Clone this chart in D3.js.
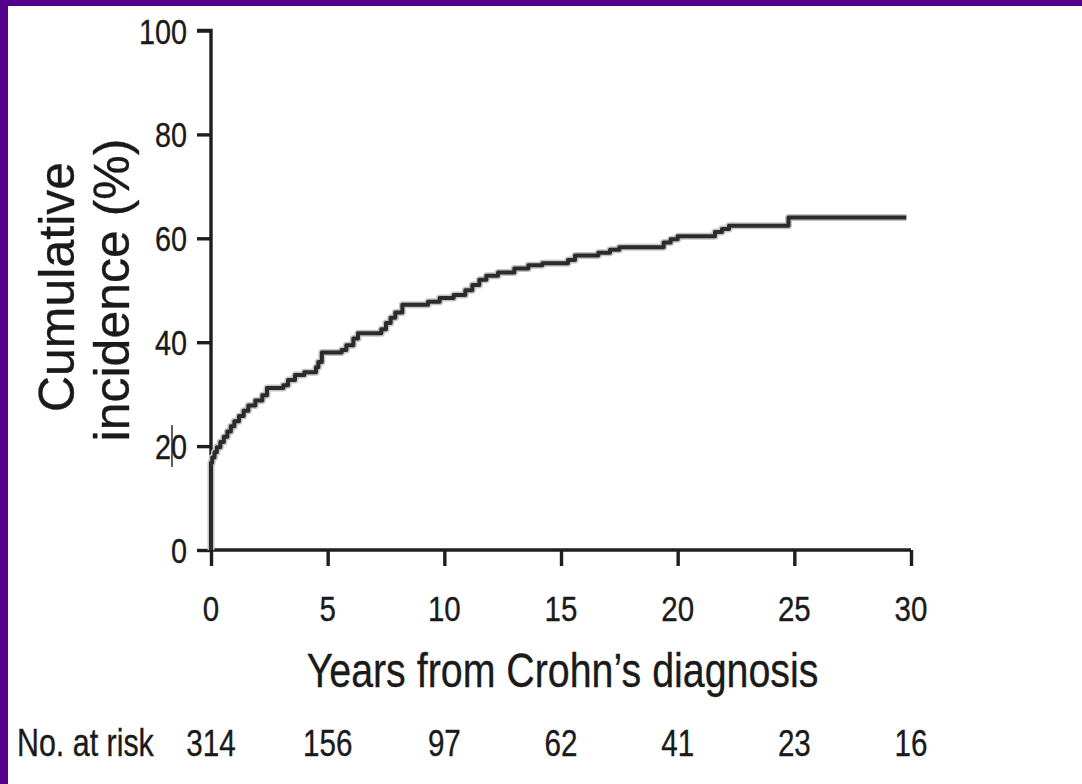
<!DOCTYPE html>
<html>
<head>
<meta charset="utf-8">
<script src="https://cdn.jsdelivr.net/npm/d3@7"></script>
<style>
  html, body { margin: 0; padding: 0; background: #fff; }
  svg { display: block; }
  text { font-family: "Liberation Sans", Arial, sans-serif; fill: #1a1a1a; stroke: #1a1a1a; stroke-width: 0.35px; }
</style>
</head>
<body>
<svg id="chart" width="1082" height="784"></svg>
<script>
// ---- data ----
const years = [0, 0, 0.05, 0.15, 0.25, 0.4, 0.55, 0.7, 0.85, 1.0, 1.2, 1.4, 1.6, 1.9, 2.2, 2.4, 3.1, 3.3, 3.6, 4.0, 4.5, 4.6, 4.75, 5.6, 5.8, 6.1, 6.3, 7.3, 7.5, 7.7, 7.9, 8.2, 9.3, 9.8, 10.4, 10.9, 11.2, 11.5, 11.8, 12.3, 13.0, 13.6, 14.2, 15.3, 15.6, 16.6, 17.1, 17.5, 19.4, 19.7, 20.0, 21.6, 21.9, 22.2, 24.75, 29.8];
const incidence = [0, 16.8, 17.8, 18.8, 19.8, 20.8, 21.8, 22.8, 23.8, 24.8, 25.8, 26.8, 27.8, 28.8, 29.8, 31.2, 31.7, 32.7, 33.7, 34.2, 35.2, 36.2, 38.0, 38.5, 39.4, 40.7, 41.7, 42.5, 43.7, 44.7, 45.7, 47.2, 47.8, 48.5, 49.1, 50.0, 51.0, 52.0, 52.8, 53.4, 54.2, 54.8, 55.2, 55.8, 56.7, 57.2, 57.8, 58.3, 59.2, 59.8, 60.4, 61.2, 61.8, 62.4, 64.0, 64.0];
const xTicks = [0, 5, 10, 15, 20, 25, 30];
const yTicks = [0, 20, 40, 60, 80, 100];
const atRiskYears = [0, 5, 10, 15, 20, 25, 30];
const atRisk = [314, 156, 97, 62, 41, 23, 16];
const xTitle = "Years from Crohn\u2019s diagnosis";
const yTitleLines = ["Cumulative", "incidence (%)"];
const atRiskLabel = "No. at risk";

// ---- layout ----
const svg = d3.select("#chart");
const W = 1082, H = 784;
const x = d3.scaleLinear().domain([0, 30]).range([211, 911]);
const y = d3.scaleLinear().domain([0, 100]).range([550, 30.5]);
const ink = "#1e1e1e";

// purple frame (top and left)
svg.append("rect").attr("x", 0).attr("y", 0).attr("width", W).attr("height", 6).attr("fill", "#55008a");
svg.append("rect").attr("x", 0).attr("y", 0).attr("width", 8).attr("height", H).attr("fill", "#55008a");

// axes
const yAxis = d3.axisLeft(y).tickValues(yTicks).tickSize(14).tickFormat("");
const gy = svg.append("g").attr("transform", `translate(${x(0)},0)`).call(yAxis);
const xAxis = d3.axisBottom(x).tickValues(xTicks).tickSize(16).tickFormat("");
const gx = svg.append("g").attr("transform", `translate(0,${y(0)})`).call(xAxis);
[gy, gx].forEach(g => {
  g.select(".domain").attr("stroke", ink).attr("stroke-width", 3.4);
  g.selectAll(".tick line").attr("stroke", ink).attr("stroke-width", 3.4);
});
gy.select(".domain").attr("d", `M-14,${y(100)}H0V${y(0)}`);
gx.select(".domain").attr("d", `M${x(0)},0H${x(30)}`);

// y tick labels (condensed)
svg.append("g").selectAll("text").data(yTicks).join("text")
  .attr("transform", d => `translate(187,${y(d) + 13}) scale(0.8,1)`)
  .attr("text-anchor", "end")
  .attr("font-size", 36)
  .text(d => d);

// small artefact mark through the "20" label
svg.append("line").attr("x1", 172).attr("x2", 172)
  .attr("y1", y(20) - 21).attr("y2", y(20) + 21)
  .attr("stroke", ink).attr("stroke-width", 1.4);

// x tick labels
svg.append("g").selectAll("text").data(xTicks).join("text")
  .attr("transform", d => `translate(${x(d)},621) scale(0.82,1)`)
  .attr("text-anchor", "middle")
  .attr("font-size", 36)
  .text(d => d);

// x title
svg.append("text")
  .attr("transform", `translate(${(303 + 822) / 2},687) scale(0.82,1)`)
  .attr("text-anchor", "middle")
  .attr("font-size", 48)
  .text(xTitle);

// y title (two rotated lines)
svg.append("g").selectAll("text").data(yTitleLines).join("text")
  .attr("transform", (d, i) => `translate(${i === 0 ? 74 : 129},${i === 0 ? 287 : 290}) rotate(-90)`)
  .attr("text-anchor", "middle")
  .attr("font-size", 50)
  .text(d => d);

// number at risk row
svg.append("text")
  .attr("transform", `translate(17,756) scale(0.8,1)`)
  .attr("font-size", 38)
  .text(atRiskLabel);
svg.append("g").selectAll("text").data(atRisk).join("text")
  .attr("transform", (d, i) => `translate(${x(atRiskYears[i])},756) scale(0.8,1)`)
  .attr("text-anchor", "middle")
  .attr("font-size", 37)
  .text(d => d);

// curve
const line = d3.line()
  .x((d, i) => x(years[i]))
  .y((d, i) => y(incidence[i]))
  .curve(d3.curveStepAfter);
svg.append("path")
  .datum(incidence)
  .attr("d", line)
  .attr("fill", "none")
  .attr("stroke", "#c4c4c4")
  .attr("stroke-width", 7)
  .attr("stroke-linejoin", "round");
svg.append("path")
  .datum(incidence)
  .attr("d", line)
  .attr("fill", "none")
  .attr("stroke", "#2b2b2b")
  .attr("stroke-width", 4)
  .attr("stroke-linejoin", "round");
</script>
</body>
</html>
